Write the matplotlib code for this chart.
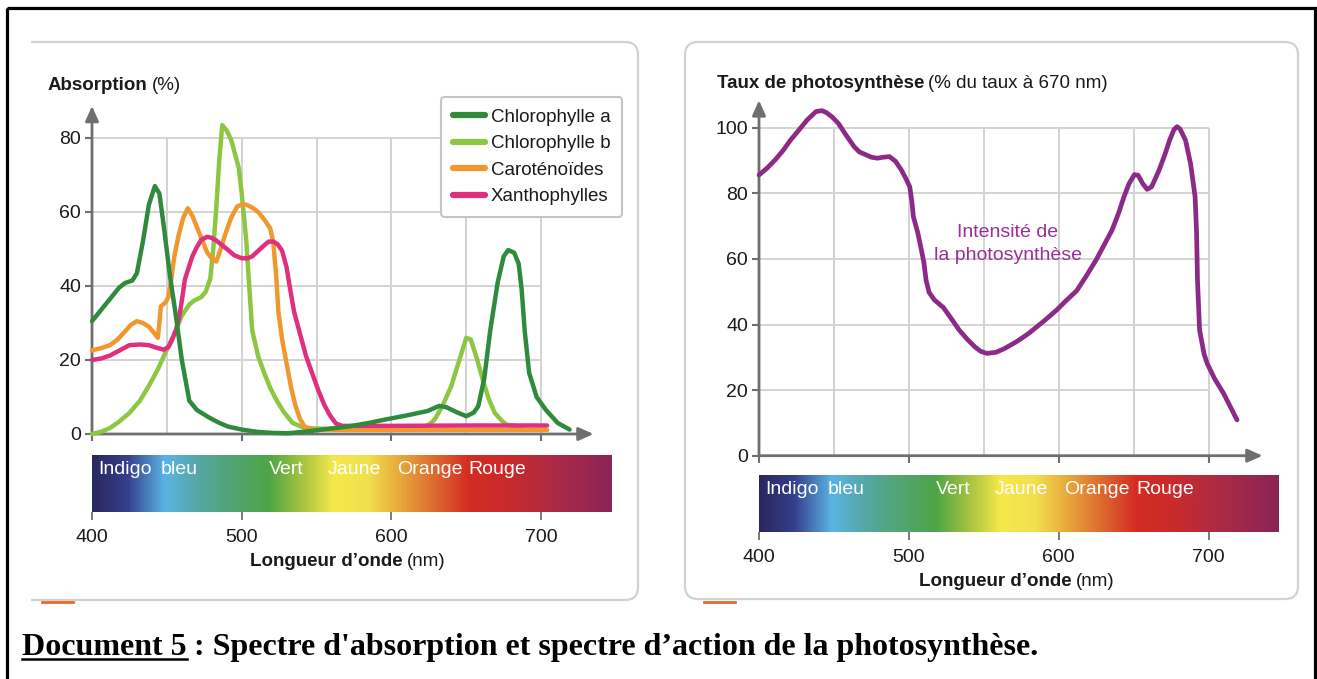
import numpy as np
import matplotlib
matplotlib.use("Agg")
import matplotlib.pyplot as plt
from matplotlib.colors import LinearSegmentedColormap
from matplotlib.patches import FancyBboxPatch, Rectangle

plt.rcParams['font.family'] = ['Liberation Sans', 'DejaVu Sans']

# ---- data (wavelength nm, value) ----
chl_a_wl = [400, 406, 412, 418, 422, 427, 430, 434, 438, 442, 445, 448, 452, 456, 460, 465,
            470, 478, 485, 491, 500, 510, 520, 531, 544, 558, 571, 585, 597, 610, 624, 632,
            637, 643, 650, 655, 658, 662, 666, 671, 675, 678, 682, 685, 687, 689, 692, 697,
            703, 711, 719]
chl_a = [30.5, 33.5, 36.5, 39.5, 40.8, 41.5, 43.5, 52, 62, 67, 65, 56, 43, 32, 20, 9,
         6.5, 4.5, 3, 2, 1.2, 0.6, 0.3, 0.2, 0.7, 1.4, 2.0, 3, 4, 5, 6.2, 7.6,
         7.2, 6, 4.8, 5.8, 7.5, 15, 28, 41, 48, 49.7, 49, 46, 39, 28, 16.5, 10,
         6.6, 3, 1.2]

chl_b_wl = [400, 406, 412, 418, 425, 432, 438, 444, 449, 455, 460, 465, 468, 473, 476, 479,
            481, 483, 485, 487, 490, 493, 496, 498, 500, 503, 505, 507, 511, 515, 519, 523,
            528, 534, 542, 557, 575, 600, 615, 621, 626, 629, 634, 640, 645, 650, 653, 657,
            661, 665, 669, 674, 677, 687]
chl_b = [0, 0.6, 1.6, 3.3, 5.7, 9, 13, 17.5, 22, 27, 32, 35, 36, 37, 38.5, 42,
         50, 61, 74, 83.5, 82, 79.4, 75, 72, 65, 52.5, 40, 28, 21, 16.5, 12.5, 9.3,
         6, 3, 1.6, 1.4, 1.4, 1.5, 1.5, 1.7, 2.8, 4, 7.5, 13, 19.5, 26, 25.5, 20.5,
         14.7, 9.5, 5.7, 3.5, 2.5, 2]

carot_wl = [400, 406, 412, 417, 422, 426, 430, 434, 438, 442, 444, 445, 446, 449, 451, 453,
            455, 458, 461, 464, 467, 470, 474, 477, 480, 483, 486, 489, 493, 497, 500, 503,
            507, 511, 515, 519, 521, 523, 524.5, 527, 530, 533, 536, 539, 542, 548, 570,
            600, 650, 704]
carot = [22.6, 23.2, 24, 25.5, 27.7, 29.5, 30.5, 30, 29, 27, 26, 30, 34.5, 35.5, 37, 42,
         48, 54, 58.5, 61, 59, 56, 52, 49, 47.5, 46.6, 50, 54, 58.5, 61.5, 62, 62,
         61.2, 60, 58, 55.6, 52, 43, 33, 25.5, 19, 12.5, 7.5, 4, 2, 1.2, 1.1,
         1.1, 1.1, 1.1]

xanth_wl = [400, 406, 412, 418, 425, 432, 438, 444, 448, 451, 453, 456, 458, 460, 462, 465,
            467, 470, 473, 477, 480, 483, 487, 491, 495, 500, 504, 507, 511, 515, 518, 521,
            524, 527, 530, 532, 535, 539, 543, 547, 551, 555, 559, 563, 567, 600, 650, 704]
xanth = [20, 20.4, 21.2, 22.5, 24, 24.2, 24, 23.2, 22.8, 23.5, 25, 28, 31, 36, 41.7, 45.5,
         48, 50.5, 52.5, 53.3, 53, 52.3, 51, 49.7, 48.3, 47.5, 47.5, 48, 49.5, 51, 52, 52,
         51.3, 49.5, 45, 40, 33, 27, 21, 16.5, 12, 8, 5, 2.8, 2.2, 2.2, 2.3, 2.3]

photo_wl = [400, 405, 410.6, 416, 421, 427, 432, 438, 442, 445, 449, 453, 458, 463.5, 467, 471.5,
            475, 479, 483, 487, 491, 495, 498, 500.6, 502, 503, 506, 508, 510, 511.5, 513.5, 517, 523,
            528, 533.6, 539, 544, 548, 552, 558, 564, 572, 580, 590, 598.6, 605, 612, 618,
            625, 630, 635.6, 640, 643.6, 647, 650.5, 653, 656, 659, 662, 665, 667, 671, 674,
            677, 679, 681, 684.6, 688, 691, 692, 692.6, 694, 697, 699, 704, 710, 715, 719]
photo = [85.6, 87.5, 90.1, 93, 96.2, 99.5, 102.3, 104.9, 105.2, 104.6, 103.2, 101.3, 97.8, 94.2, 92.6, 91.7,
         91, 90.7, 91, 91.2, 89.8, 87.1, 84.5, 82, 77.5, 72.9, 67.9, 63.5, 59, 53.5, 49.8, 47.5, 45.2,
         42, 38.3, 35.5, 33.2, 31.8, 31.2, 31.5, 32.7, 34.8, 37.3, 41, 44.4, 47.3, 50.3, 54.5,
         59.7, 64, 68.8, 74, 79, 83, 85.7, 85.5, 83, 81.2, 82, 85, 87.1, 92, 96.2,
         99.5, 100.3, 99.6, 96.2, 89, 79, 68, 53.6, 38.3, 31, 28.2, 23.5, 19, 14.5, 10.9]

series_names = ['Chlorophylle a', 'Chlorophylle b', 'Caroténoïdes', 'Xanthophylles']
series_colors = ['#2f8a3c', '#8dc641', '#f0982f', '#df2f7f']

spec_wl = [400, 423, 448, 470, 491, 518, 541, 561, 584, 606, 629, 652, 679, 713, 747]
spec_colors = ['#29275e', '#363f8c', '#5ab4e4', '#55a7a6', '#52a477', '#4ea545', '#a9c541',
               '#f6e84b', '#f1e04f', '#e8a83c', '#dc6a30', '#d42c23', '#c82a2c', '#a82a48', '#8b2456']
band_names = ['Indigo', 'bleu', 'Vert', 'Jaune', 'Orange', 'Rouge']
band_starts = [404.5, 446, 518, 557.5, 603.5, 651.5]

W, H = 1317, 679
GRID = '#d3d3d3'
AXC = '#6f6f6f'
TXT = '#1a1a1a'

fig = plt.figure(figsize=(W / 100, H / 100), dpi=100)
bg = fig.add_axes([0, 0, 1, 1])
bg.set_xlim(0, W)
bg.set_ylim(H, 0)
bg.axis('off')


def frac(x0, y_top, x1, y_bot):
    return [x0 / W, 1 - y_bot / H, (x1 - x0) / W, (y_bot - y_top) / H]


spec_cmap = LinearSegmentedColormap.from_list(
    'spec', [((w - 400) / 347, c) for w, c in zip(spec_wl, spec_colors)])


def setup_main(ax, ytop, yticks, xarrow):
    ax.set_xlim(400, 747)
    ax.set_ylim(0, ytop)
    ax.patch.set_alpha(0)
    for s in ax.spines.values():
        s.set_visible(False)
    gtop = yticks[-1]
    ax.hlines(yticks[1:], 400, 700, color=GRID, lw=1.4, zorder=0)
    ax.vlines(np.arange(450, 701, 50), 0, gtop, color=GRID, lw=1.4, zorder=0)
    ax.annotate('', xy=(xarrow, 0), xytext=(400, 0), annotation_clip=False,
                arrowprops=dict(arrowstyle='-|>,head_length=0.9,head_width=0.4', color=AXC,
                                lw=2, shrinkA=0, shrinkB=0))
    ax.annotate('', xy=(400, ytop * 0.985), xytext=(400, 0), annotation_clip=False,
                arrowprops=dict(arrowstyle='-|>,head_length=0.9,head_width=0.4', color=AXC,
                                lw=2, shrinkA=0, shrinkB=0))
    ax.set_yticks(yticks)
    ax.set_yticklabels([str(v) for v in yticks])
    ax.tick_params(axis='y', length=5, width=1.5, color=AXC, labelsize=14, labelcolor=TXT, pad=3)
    ax.set_xticks([400, 500, 600, 700])
    ax.tick_params(axis='x', length=5, width=1.5, color=AXC, labelbottom=False)


def setup_bar(ax):
    grad = np.linspace(400, 747, 700)[None, :]
    ax.imshow(grad, cmap=spec_cmap, vmin=400, vmax=747, aspect='auto',
              extent=(400, 747, 0, 1), interpolation='bilinear')
    ax.set_xlim(400, 747)
    ax.set_ylim(0, 1)
    for s in ax.spines.values():
        s.set_visible(False)
    ax.set_yticks([])
    ax.set_xticks([400, 500, 600, 700])
    ax.tick_params(axis='x', length=6, width=1.3, color=AXC, labelsize=14, labelcolor=TXT, pad=6)
    for name, w in zip(band_names, band_starts):
        ax.text(w, 0.74, name, color='white', fontsize=14, ha='left', va='center')


# ---- left panel: absorption ----
ax1 = fig.add_axes(frac(92, 101, 611.5, 434))
setup_main(ax1, 90, [0, 20, 40, 60, 80], 735)
for wl, vals, name, col in zip([chl_a_wl, chl_b_wl, carot_wl, xanth_wl],
                               [chl_a, chl_b, carot, xanth], series_names, series_colors):
    ax1.plot(wl, vals, color=col, lw=3.2, label=name, solid_joinstyle='round',
             solid_capstyle='round', clip_on=False, zorder=3)
# chlorophylle a sits on top in the original
ax1.lines[-4].set_zorder(4)
leg = ax1.legend(loc='upper left', bbox_to_anchor=(441 / W, 1 - 97 / H),
                 bbox_transform=fig.transFigure, fontsize=13.5, frameon=True, fancybox=True,
                 edgecolor='#c4c4c4', framealpha=1, handlelength=1.7, handletextpad=0.35,
                 labelspacing=0.5, borderpad=0.62, borderaxespad=0)
leg.get_frame().set_linewidth(1.5)
for t in leg.get_texts():
    t.set_color(TXT)
for h in leg.legend_handles:
    h.set_linewidth(4.5)

axb1 = fig.add_axes(frac(92, 454.5, 611.5, 512))
setup_bar(axb1)

# ---- right panel: photosynthesis action spectrum ----
ax2 = fig.add_axes(frac(759, 94.9, 1279, 455.7))
setup_main(ax2, 110, [0, 20, 40, 60, 80, 100], 736)
ax2.plot(photo_wl, photo, color='#8b2a87', lw=3.4, solid_joinstyle='round',
         solid_capstyle='round', clip_on=False, zorder=3)
ax2.text(566, 64.5, 'Intensité de\nla photosynthèse', color='#9b3096', fontsize=14,
         ha='center', va='center', linespacing=1.45)

axb2 = fig.add_axes(frac(759, 475, 1279, 532))
setup_bar(axb2)

# ---- frames around the panels ----
lf = FancyBboxPatch((-20, 42), 658, 558, boxstyle='round,pad=0,rounding_size=13',
                    fc='none', ec='#d2d2d2', lw=1.6)
bg.add_patch(lf)
lf.set_clip_path(Rectangle((31, 0), 700, H, transform=bg.transData))
bg.add_patch(FancyBboxPatch((685, 42), 613, 557, boxstyle='round,pad=0,rounding_size=13',
                            fc='none', ec='#d2d2d2', lw=1.6))
bg.plot([42, 73], [602, 602], color='#e8692a', lw=2)
bg.plot([704, 735], [602, 602], color='#e8692a', lw=2)
bg.add_patch(Rectangle((6.5, 7.5), 1308.5, 680, fc='none', ec='black', lw=2.3, clip_on=False))

# ---- titles with a bold and a regular part ----
renderer = fig.canvas.get_renderer()


def two_part(x, y, parts, size=13.5, ha='left', family=None, color=TXT, gap=4, va='center'):
    texts, widths = [], []
    for s, w in parts:
        kw = dict(fontsize=size, fontweight=w, va=va, ha='left', color=color)
        if family:
            kw['family'] = family
        t = bg.text(0, y, s, **kw)
        widths.append(t.get_window_extent(renderer).width)
        texts.append(t)
    total = sum(widths) + gap * (len(texts) - 1)
    start = x - total / 2 if ha == 'center' else x
    for t, w in zip(texts, widths):
        t.set_x(start)
        start += w + gap
    return texts, widths


two_part(48, 85, [('Absorption', 'bold'), ('(%)', 'normal')])
two_part(717, 83, [('Taux de photosynthèse', 'bold'), ('(% du taux à 670 nm)', 'normal')])
two_part(348, 562, [('Longueur d’onde', 'bold'), ('(nm)', 'normal')], ha='center')
two_part(1017, 582, [('Longueur d’onde', 'bold'), ('(nm)', 'normal')], ha='center')

# ---- caption ----
cap, cw = two_part(22, 655, [('Document 5', 'bold'),
                             (": Spectre d'absorption et spectre d’action de la photosynthèse.", 'bold')],
                   size=23, family=['Liberation Serif', 'DejaVu Serif'], color='black', gap=7,
                   va='baseline')
bg.plot([22, 22 + cw[0]], [659, 659], color='black', lw=1.8)

fig.savefig('out.png', dpi=100)
